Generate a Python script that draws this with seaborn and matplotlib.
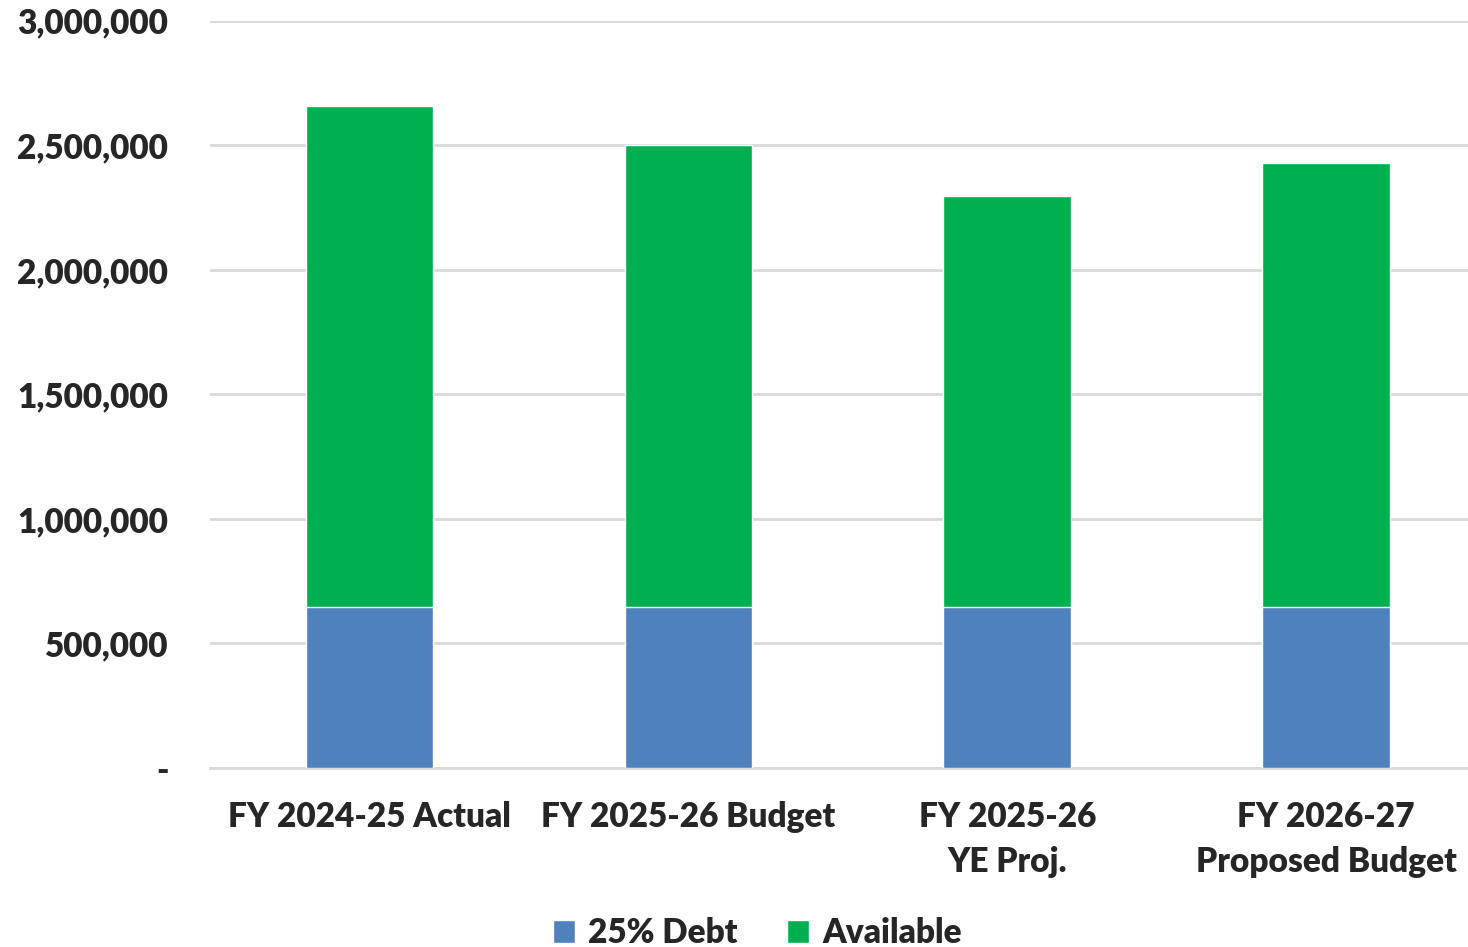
import pandas as pd
import numpy as np
import matplotlib
matplotlib.use("Agg")
import matplotlib.pyplot as plt
from matplotlib.ticker import FuncFormatter
from matplotlib.patches import Patch
import seaborn as sns

# Chart data
categories = ["FY 2024-25 Actual", "FY 2025-26 Budget", "FY 2025-26\nYE Proj.", "FY 2026-27\nProposed Budget"]
debt_25pct = [647000, 647000, 647000, 647000]
available = [2012000, 1853000, 1650000, 1783000]
series_names = ["25% Debt", "Available"]

BLUE = "#4F81BD"
GREEN = "#00B050"
GRID = "#D9D9D9"

sns.set_theme(style="white")
plt.rcParams['font.family'] = ['Lato', 'DejaVu Sans']
plt.rcParams['font.weight'] = 'bold'

df = pd.DataFrame({
    "category": categories,
    "debt": debt_25pct,
    "available": available,
})
df["total"] = df["debt"] + df["available"]

fig = plt.figure(figsize=(14.68, 9.47), dpi=100)
ax = fig.add_axes([0.143, 0.189, 0.869, 0.789])

# Stacked: draw totals in green, then debt in blue on top of it
sns.barplot(data=df, x="category", y="total", color=GREEN, width=0.40,
            saturation=1, ax=ax, zorder=3)
sns.barplot(data=df, x="category", y="debt", color=BLUE, width=0.40,
            saturation=1, ax=ax, zorder=4)

ax.set_ylim(0, 3000000)
ax.set_yticks(np.arange(0, 3000001, 500000))
ax.yaxis.set_major_formatter(FuncFormatter(lambda v, p: "-" if v == 0 else f"{int(v):,}"))
ax.grid(axis="y", color=GRID, linewidth=2, zorder=0)
ax.set_axisbelow(True)
for s in ["top", "right", "left"]:
    ax.spines[s].set_visible(False)
ax.spines["bottom"].set_color(GRID)
ax.spines["bottom"].set_linewidth(2)
ax.tick_params(axis="y", length=0, labelsize=24, pad=30)
ax.tick_params(axis="x", length=0, labelsize=24, pad=24)
for lbl in ax.get_xticklabels() + ax.get_yticklabels():
    lbl.set_fontweight("heavy")
for lbl in ax.get_xticklabels():
    lbl.set_linespacing(1.5)
ax.set_xlabel("")
ax.set_ylabel("")
ax.set_xlim(-0.5, 3.5)

handles = [Patch(facecolor=BLUE, label=series_names[0]),
           Patch(facecolor=GREEN, label=series_names[1])]
fig.legend(handles=handles, loc="lower center", bbox_to_anchor=(0.516, -0.034), ncol=2,
           frameon=False, prop={"size": 24, "weight": "heavy"},
           handlelength=0.65, handleheight=0.65, handletextpad=0.4, columnspacing=1.5)

fig.savefig("out.png", dpi=100)
